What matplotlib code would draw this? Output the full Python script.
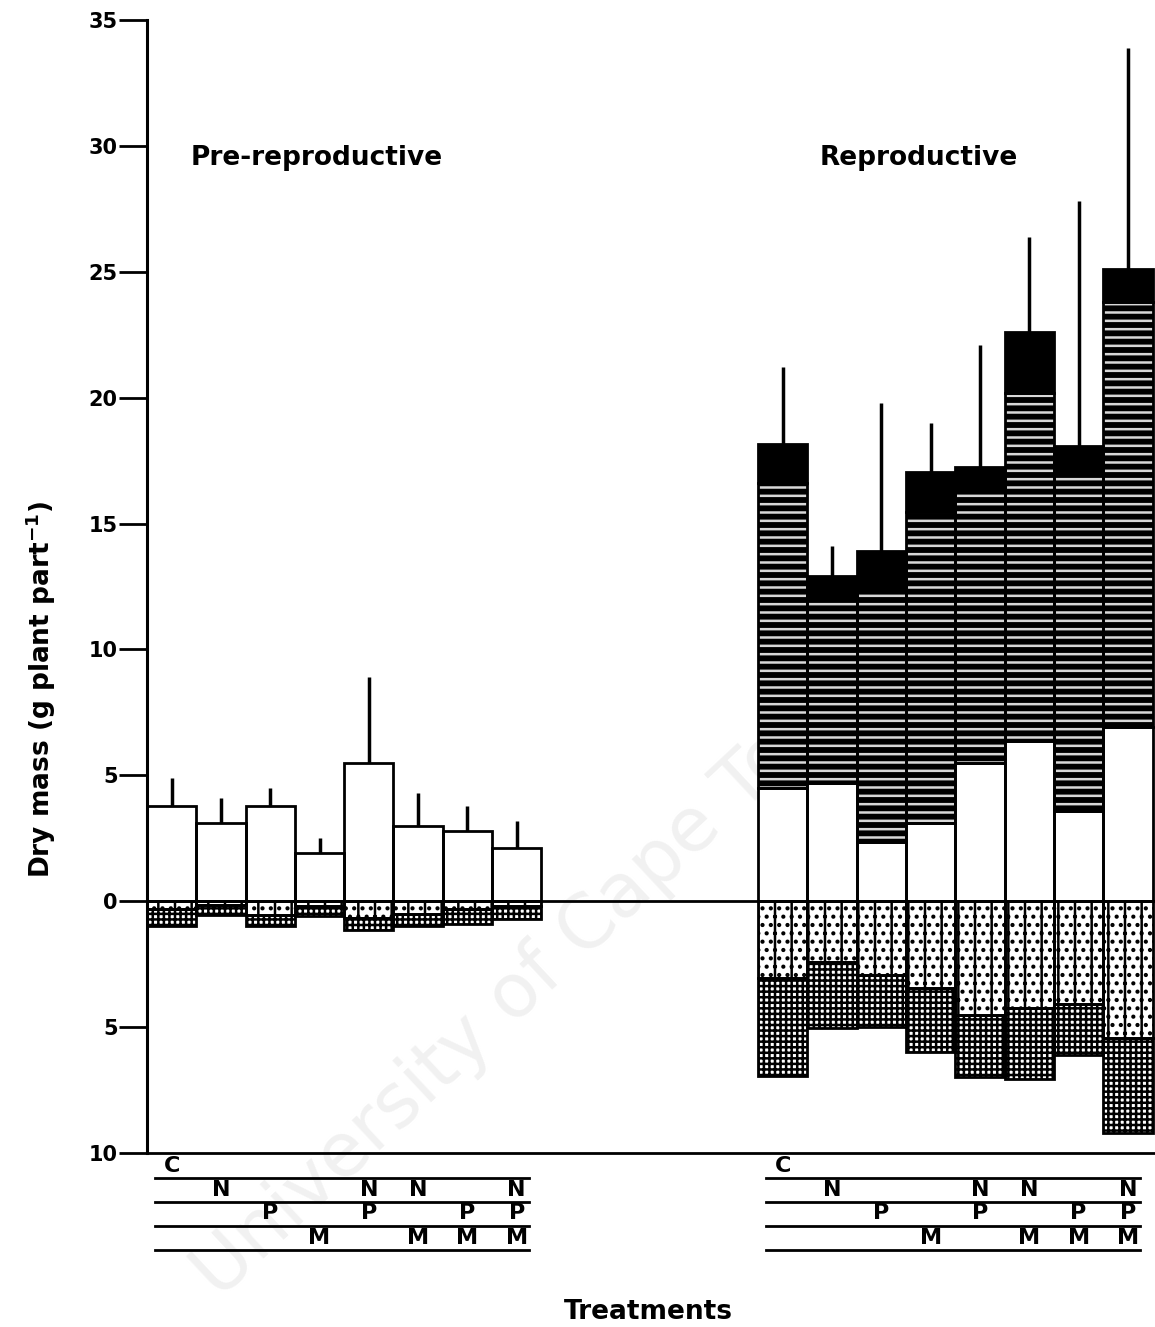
import numpy as np
import matplotlib.pyplot as plt

treatments = ['C', 'N', 'P', 'M', 'NP', 'NM', 'PM', 'NPM']

# pre-reproductive harvest (g plant part-1)
pre_top = [3.8, 3.1, 3.8, 1.9, 5.5, 3.0, 2.8, 2.1]
pre_top_err = [1.1, 1.0, 0.7, 0.6, 3.4, 1.3, 1.0, 1.1]
pre_under1 = [0.3, 0.15, 0.55, 0.2, 0.68, 0.5, 0.3, 0.2]
pre_under2 = [0.7, 0.4, 0.45, 0.4, 0.47, 0.5, 0.6, 0.5]

# reproductive harvest
rep_white = [4.5, 4.7, 2.35, 3.1, 5.5, 6.35, 3.6, 6.9]
rep_lined = [12.1, 7.4, 9.95, 12.35, 10.8, 13.85, 13.4, 16.9]
rep_black = [1.55, 0.8, 1.6, 1.6, 0.95, 2.4, 1.1, 1.3]
rep_err = [3.05, 1.2, 5.9, 1.95, 4.85, 3.8, 9.7, 8.8]
rep_under1 = [3.05, 2.4, 2.95, 3.45, 4.5, 4.25, 4.1, 5.45]
rep_under2 = [3.9, 2.65, 2.05, 2.55, 2.5, 2.8, 2.0, 3.75]

plt.rcParams['font.family'] = 'DejaVu Sans'
plt.rcParams['font.weight'] = 'bold'
plt.rcParams['mathtext.default'] = 'bf'
plt.rcParams['hatch.linewidth'] = 1.8

fig = plt.figure(figsize=(11.55, 13.27), dpi=100)
ax = fig.add_axes([147 / 1155, 174 / 1327, 1 - 147 / 1155, 1133 / 1327])
ax.patch.set_visible(False)

# faint watermark of the scan
fig.text(0.19, 0.02, 'University of Cape Town', rotation=43, rotation_mode='anchor',
         fontsize=54, fontweight='normal', color='#f1f1f1', zorder=-1)


def seg(x, bottom, height, face='white', hatch=None, hcolor='black'):
    ax.bar(x, height, 1.0, bottom=bottom, color=face, edgecolor=hcolor,
           hatch=hatch, linewidth=0, zorder=2)
    ax.bar(x, height, 1.0, bottom=bottom, fill=False, edgecolor='black',
           linewidth=2, zorder=3)


x_pre = np.arange(8) + 0.5
x_rep = np.arange(8) + 12.9

pre_top = np.array(pre_top)
pre_under1 = np.array(pre_under1)
pre_under2 = np.array(pre_under2)
seg(x_pre, 0, pre_top)
seg(x_pre, 0, -pre_under1, hatch='|..')
seg(x_pre, -pre_under1, -pre_under2, hatch='+++')
ax.vlines(x_pre, pre_top, pre_top + np.array(pre_top_err), color='black', lw=2.5, zorder=1)

rep_white = np.array(rep_white)
rep_lined = np.array(rep_lined)
rep_black = np.array(rep_black)
rep_under1 = np.array(rep_under1)
rep_under2 = np.array(rep_under2)
rep_total = rep_white + rep_lined + rep_black
seg(x_rep, 0, rep_white)
seg(x_rep, rep_white, rep_lined, face='black', hatch='--', hcolor='#d8d8d8')
seg(x_rep, rep_white + rep_lined, rep_black, face='black')
seg(x_rep, 0, -rep_under1, hatch='|..')
seg(x_rep, -rep_under1, -rep_under2, hatch='+++')
ax.vlines(x_rep, rep_total, rep_total + np.array(rep_err), color='black', lw=2.5, zorder=1)

ax.axhline(0, color='black', lw=2, zorder=4)

ax.set_xlim(0, 20.45)
ax.set_ylim(-10, 35)
for s in ['top', 'right']:
    ax.spines[s].set_visible(False)
ax.spines['left'].set_linewidth(2.2)
ax.spines['bottom'].set_linewidth(2)
ax.set_xticks([])
yt = np.arange(-10, 36, 5)
ax.set_yticks(yt)
ax.set_yticklabels([str(abs(v)) for v in yt])
ax.tick_params(axis='y', length=20, width=2, pad=1, labelsize=15)

ax.text(3.45, 29.5, 'Pre-reproductive', ha='center', va='center', fontsize=19)
ax.text(15.65, 29.5, 'Reproductive', ha='center', va='center', fontsize=19)

# treatment key under each group
line_y = [-11.0, -11.95, -12.9, -13.85]
row_y = {'C': -10.5, 'N': -11.45, 'P': -12.4, 'M': -13.38}
for x0, xs in [(0.0, x_pre), (12.4, x_rep)]:
    for y in line_y:
        ax.plot([x0 + 0.16, x0 + 7.74], [y, y], color='black', lw=2, clip_on=False)
    for xc, t in zip(xs, treatments):
        for ch in t:
            ax.text(xc, row_y[ch], ch, ha='center', va='center', fontsize=16, clip_on=False)

fig.text(0.561, 0.011, 'Treatments', ha='center', va='center', fontsize=19)
fig.text(0.035, 0.48, 'Dry mass (g plant part$^{-1}$)', rotation=90,
         ha='center', va='center', fontsize=19)

fig.savefig('out.png', dpi=100)
